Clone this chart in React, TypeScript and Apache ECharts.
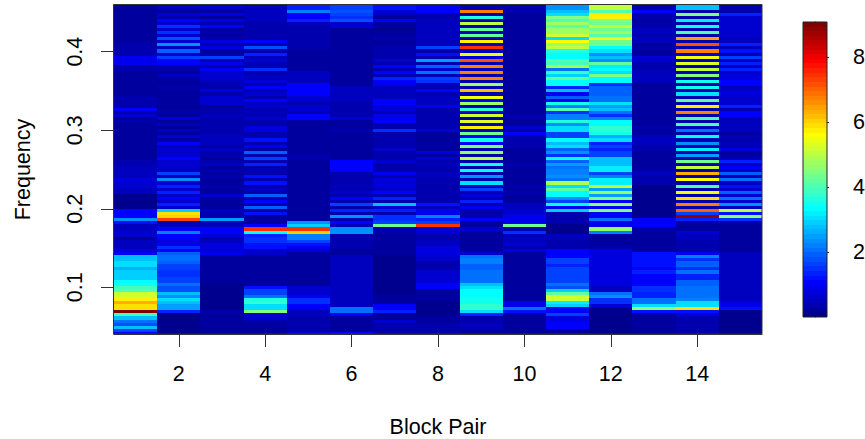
import React, { useEffect, useRef } from "react";
import * as echarts from "echarts";

const FONT = "Liberation Sans";
const FONT_SIZE = 21.5;
const X_TICKS = [2, 4, 6, 8, 10, 12, 14];
const Y_TICKS = [0.1, 0.2, 0.3, 0.4];
const BAR_TICKS = [2, 4, 6, 8];
const VMAX = 9.07;
const FREQ_TOP = 0.4594;
const FREQ_BOTTOM = 0.0406;
const DF = 1 / 256;

const PALETTE = ["#00008F","#00009F","#0000AF","#0000BF","#0000CF","#0000DF","#0000EF","#0000FF","#0010FF","#0020FF","#0030FF","#0040FF","#0050FF","#0060FF","#0070FF","#0080FF","#008FFF","#009FFF","#00AFFF","#00BFFF","#00CFFF","#00DFFF","#00EFFF","#00FFFF","#10FFEF","#20FFDF","#30FFCF","#40FFBF","#50FFAF","#60FF9F","#70FF8F","#80FF80","#8FFF70","#9FFF60","#AFFF50","#BFFF40","#CFFF30","#DFFF20","#EFFF10","#FFFF00","#FFEF00","#FFDF00","#FFCF00","#FFBF00","#FFAF00","#FF9F00","#FF8F00","#FF8000","#FF7000","#FF6000","#FF5000","#FF4000","#FF3000","#FF2000","#FF1000","#FF0000","#EF0000","#DF0000","#CF0000","#BF0000","#AF0000","#9F0000","#8F0000","#800000"];

// Each block pair: power per frequency row, top row (high frequency) first
const pair1 = [.15,.15,.15,.15,.15,.15,.15,.15,.15,.15,
  .15,.15,.15,.4,.4,.3,.3,.9,.9,.9,
  .4,.4,.15,.15,.15,.15,.15,.15,.15,.15,
  .3,.3,.3,.3,1.1,.4,.6,.2,.4,.15,
  .15,.15,.15,.15,.15,.15,.15,.15,.15,.15,
  .15,.3,.3,.5,.5,.5,.5,.8,.6,.6,
  .5,.5,.1,.1,.1,.1,.1,1.1,1.1,1.1,
  2.3,1.2,.5,.5,.7,.6,.2,.5,.5,.5,
  .6,1.1,2.7,2.8,3.0,3.1,2.6,2.9,2.9,2.9,
  3.3,3.5,3.9,4.0,5.2,5.2,5.7,6.3,5.9,5.9,
  9.07,3.9,2.7,2.0,1.8,2.7,1.6,1.0];
const pair2 = [.5,.5,.2,.7,.4,1.1,.6,1.5,.7,1.5,
  .6,1.8,.6,2.3,.5,1.9,.6,1.6,1.1,1.1,
  .3,.3,.2,.5,.15,.15,.15,.3,.15,.15,
  .15,.15,.15,.15,.15,.4,.2,.8,.2,.5,
  .15,.5,.15,.8,.2,1.1,.3,.6,.7,.7,
  1.0,.6,.6,.6,.4,1.6,.5,2.3,.6,1.4,
  .6,1.3,.6,1.0,.7,1.3,.7,2.9,5.9,6.0,
  7.3,.3,.5,1.0,2.2,1.1,1.0,.8,.9,1.5,
  1.0,1.9,2.1,2.0,1.9,1.7,1.6,1.5,1.5,1.6,
  1.6,2.0,1.8,1.8,2.7,2.3,3.0,2.7,2.5,2.5,
  1.4,.1,.1,.1,.1,.1,.1,.1];
const pair3 = [.6,.6,.2,.8,.2,.8,.3,1.0,.2,.3,
  .2,.3,.8,.3,.8,.2,.3,1.6,.4,.9,
  .4,1.0,.6,.7,.7,.5,.4,.4,.8,.4,
  .6,.6,.7,.2,.3,.3,.5,.4,.4,.4,
  .3,.3,.3,.5,.5,.5,.2,.5,.4,.3,
  .2,.3,.5,.2,.3,.2,.3,.2,.2,.3,
  .2,.2,.7,.2,.2,.2,.2,.5,.4,.4,
  2.5,.4,.5,1.0,1.0,.8,.4,.5,.8,.8,
  .8,.9,.2,.2,.2,.2,.2,.2,.2,.2,
  .2,.1,.1,.1,.1,.1,.1,.1,.1,.1,
  .4,.2,.2,.2,.2,.2,.2,.2];
const pair4 = [.5,.5,.5,.5,.5,.5,.4,.3,.3,.3,
  .3,.3,1.1,.3,1.8,.4,1.3,.5,.7,.4,
  .4,1.5,.3,.5,.5,.8,.3,1.0,.4,.7,
  .4,1.0,.5,.7,.3,.5,.3,.7,.3,.3,
  .8,.8,.4,.4,1.2,.3,.9,.2,1.9,.3,
  1.6,.3,1.3,.3,.3,.3,1.2,.3,1.2,.3,
  .5,.4,1.9,.3,1.1,.4,1.9,.2,1.2,.15,
  .15,.15,1.1,7.4,3.4,1.3,1.5,1.5,1.2,1.2,
  .7,.7,.15,.15,.15,.15,.15,.15,.15,.15,
  .15,.15,1.2,1.6,1.6,2.1,3.6,3.8,3.1,3.1,
  4.5,.6,.6,.35,.25,.25,.2,.2];
const pair5 = [1.3,1.3,2.2,1.1,1.1,1.4,.5,.3,.3,.3,
  .3,.3,.3,.3,.3,.2,.2,.2,.2,.2,
  .2,.2,.5,.5,.5,.5,1.1,1.1,1.1,1.0,
  .7,.7,.4,.6,.6,.4,1.1,1.1,.2,.2,
  .2,.2,.2,.2,.2,.2,.2,.2,.2,.4,
  .4,.25,.25,.25,.25,.15,.15,.15,.15,.15,
  .15,.15,.15,.15,.15,.15,.15,.15,.15,.15,
  .15,2.4,2.9,7.4,6.0,2.2,2.2,1.6,1.2,.9,
  .6,.15,.15,.15,.15,.15,.15,.15,.15,.15,
  .15,.15,.7,.7,.7,.9,1.5,1.5,1.0,.9,
  .5,.5,.3,.3,.3,.3,.3,.6];
const pair6 = [1.6,1.6,1.8,1.7,1.5,1.8,.6,.6,.2,.2,
  .2,.2,.2,.2,.2,.2,.2,.2,.2,.2,
  .2,.2,.2,.2,.2,.2,.2,.5,.5,.5,
  .5,.5,.3,.3,.3,.3,.3,.6,.2,.2,
  .2,.4,.2,.2,.2,.2,.2,.2,.2,.2,
  .2,1.0,1.0,1.1,1.1,.3,.3,.3,.3,.5,
  .3,.6,.3,1.0,.3,1.7,.4,1.3,.4,2.4,
  .4,1.1,.5,2.3,2.3,.4,.4,.4,.4,.4,
  .2,.2,.5,.5,.5,.5,.5,.5,.5,.5,
  .5,.5,.5,.5,.5,.5,.5,.5,.5,2.0,
  2.0,1.0,.2,.2,.2,.2,.2,1.0];
const pair7 = [1.2,1.2,.6,.5,.2,1.0,.2,.2,.1,.2,
  .2,.3,.15,.15,.4,.4,.4,.3,.6,.3,
  1.0,.3,1.0,.3,1.3,1.1,.9,.5,.5,.5,
  .5,1.1,1.1,.8,.8,.3,.9,.9,1.0,.3,
  .3,1.5,.4,.4,.4,.4,.4,.6,.4,.4,
  .4,.6,.2,.4,.4,.9,.3,.8,.8,.6,
  .6,1.0,.3,1.3,.4,2.7,.7,1.3,.4,1.5,
  1.5,1.6,4.3,.3,.3,.2,.2,.2,.2,.2,
  .2,.2,.1,.1,.1,.1,.1,.1,.1,.1,
  .1,.1,.1,.1,.1,.2,.2,.2,1.0,1.0,
  1.3,.2,.2,.6,.3,.4,.4,.4];
const pair8 = [1.0,1.0,1.1,.4,.4,.5,.5,.5,.5,.5,
  .5,.5,.5,.5,1.7,.3,1.2,.3,2.5,.3,
  1.9,.6,2.0,.3,1.7,1.5,.5,.4,1.1,.4,
  .5,.5,.5,.9,.3,.3,.3,.3,.3,.3,
  .3,.7,.2,.2,.2,.2,.2,.2,.8,.2,
  .6,.4,.5,.3,.3,.5,.5,.4,.4,.3,
  .3,.3,.3,.3,.3,1.2,.5,.9,.9,2.2,
  1.3,1.7,7.4,.6,.6,.3,.3,.5,.5,.8,
  .8,.8,.6,.6,.4,.4,.4,.7,.7,.7,
  .7,1.1,1.1,.2,.2,.2,.2,.1,.1,.1,
  .1,.1,.2,.2,.3,.3,.3,.3];
const pair9 = [.4,.4,6.8,.2,3.6,.3,5.0,.4,4.2,.4,
  4.2,.3,5.7,.5,7.5,.5,5.5,.8,7.2,.4,
  6.8,.5,6.8,.4,6.8,.4,4.8,.4,6.2,.4,
  5.5,1.0,4.7,.3,3.7,.5,5.2,.4,5.3,.5,
  5.7,.5,4.3,1.0,3.5,1.0,4.5,.3,4.6,.3,
  5.0,.3,3.5,.3,3.4,.3,2.4,.3,3.0,.5,
  1.6,.3,.8,.3,1.3,.3,.9,.3,.4,.3,
  1.0,.2,.2,.7,.15,.15,.15,.15,.15,.15,
  .15,.7,2.0,2.2,2.2,1.9,1.9,2.0,2.0,2.0,
  2.0,2.7,3.0,3.3,3.3,3.3,3.45,3.45,3.7,3.7,
  3.0,1.4,.3,.3,.5,.5,.25,.25];
const pair10 = [.4,.4,.4,.15,.15,.15,.15,.15,.15,.15,
  .15,.15,.15,.15,.15,.15,.15,.15,.15,.15,
  .15,.15,.15,.15,.15,.15,.15,.15,.15,.15,
  .15,.15,.15,.15,.15,.15,.4,.3,.15,.15,
  .6,.2,1.0,.3,.3,.3,.4,.2,.2,.2,
  .2,.2,.3,.2,.2,.2,.2,.2,.2,.3,
  .2,.3,.2,.2,.2,.5,.5,.6,.6,.9,
  .9,.9,4.3,.4,1.5,.5,.5,.5,.7,.3,
  .8,.2,.2,.2,.2,.2,.2,.2,.2,.2,
  .2,.2,.2,.2,.2,.2,.2,.9,.9,2.0,
  1.2,.4,.2,.2,.2,.2,.2,.2];
const pair11 = [2.4,2.4,2.8,3.0,4.5,4.1,4.7,4.2,4.8,4.7,
  5.2,3.0,5.6,4.8,5.0,3.6,3.3,3.3,4.1,3.9,
  4.7,2.0,3.8,2.9,4.2,3.3,3.3,1.3,2.7,.9,
  1.9,.9,3.5,2.2,4.0,1.5,2.2,2.2,3.6,2.4,
  3.0,3.0,1.6,1.6,3.4,2.8,3.0,1.9,2.4,1.5,
  3.3,1.9,2.5,2.0,2.2,2.2,2.3,2.0,4.9,3.0,
  4.2,3.3,3.3,2.4,1.7,3.3,.9,2.9,.3,.4,
  .4,.35,.1,.1,.1,.5,.5,.3,.3,.3,
  1.1,1.1,1.0,1.6,1.6,1.4,1.6,1.6,1.6,1.6,
  1.6,2.0,1.8,2.9,4.2,5.2,5.2,3.2,2.9,1.1,
  1.1,1.7,.8,.9,1.1,1.1,.15,.15];
const pair12 = [5.0,5.0,4.1,5.7,5.7,4.5,4.3,5.0,4.3,4.7,
  4.1,5.4,4.3,4.3,3.4,3.0,2.4,2.8,2.3,4.2,
  3.2,3.4,3.0,4.4,3.3,3.3,1.5,1.9,1.9,1.9,
  2.0,2.0,3.0,2.5,2.8,2.1,1.5,2.2,3.3,3.3,
  3.7,3.7,3.5,2.6,3.1,1.4,1.7,1.4,1.6,1.6,
  2.8,2.8,2.8,3.2,3.2,1.6,2.2,3.2,3.2,5.0,
  2.5,4.6,2.5,4.5,1.0,4.6,1.1,4.5,1.0,.9,
  2.1,.9,.9,4.6,2.2,.2,.2,.2,.2,.3,
  .8,.8,.8,.8,.8,.8,.8,.8,.8,.8,
  .8,.8,.5,.5,2.1,2.3,1.5,1.5,.6,.1,
  .1,.1,.1,.1,.1,.1,.1,.1];
const pair13 = [.3,.3,1.1,.4,.3,.15,.3,.3,.5,.5,
  .3,.5,.5,.2,.4,.2,.2,.6,.6,.4,
  .3,.3,.5,.5,.5,.5,.2,.2,.2,.2,
  .2,.2,.2,.2,.2,.2,.15,.2,.2,.2,
  .4,.2,.2,.5,.5,.5,.4,.4,.2,.2,
  .2,.2,.2,.2,.3,.5,.4,.4,.4,.1,
  .1,.1,.1,.1,.1,.1,.1,.1,.1,.1,
  1.1,.9,1.0,.3,.15,.15,.15,.15,.15,.15,
  .15,1.2,1.2,1.2,1.2,1.2,1.0,1.3,1.1,1.1,
  1.1,1.1,1.5,1.5,1.4,1.4,2.0,2.0,3.1,4.6,
  1.2,.3,.15,.15,.15,.15,.15,.15];
const pair14 = [2.8,2.8,.3,4.5,.4,3.2,.3,3.5,.3,4.1,
  .4,6.5,.4,7.2,.3,6.8,.8,5.4,.5,5.3,
  .4,5.0,.5,4.5,.4,3.5,.3,3.5,.3,3.0,
  .3,4.2,.3,5.7,.3,6.8,.3,4.0,.4,4.0,
  .5,2.0,.3,3.3,.3,2.3,.3,3.2,.3,2.5,
  .3,4.3,.3,5.0,.3,6.3,.4,5.6,.4,4.1,
  .3,5.5,.3,5.9,.3,6.8,.3,7.0,1.6,8.8,
  1.4,.3,.15,.15,.6,.5,.5,.3,.4,.4,
  .4,.9,2.2,1.5,1.9,1.9,1.5,2.0,1.3,1.3,
  1.9,1.9,2.0,2.1,2.1,2.0,2.2,3.1,3.0,5.9,
  1.2,.8,.4,.4,.4,.4,.4,.4];
const pair15 = [.3,.3,.3,1.4,.7,.7,.7,.7,.7,.7,
  .6,.5,.5,1.3,.5,1.2,.3,1.6,.5,1.4,
  .5,1.3,.6,.8,.8,1.1,1.0,.5,.6,.8,
  .6,.6,.6,1.3,.3,1.1,1.1,.3,.5,.5,
  .5,.5,.2,.4,.4,.5,.4,.8,.2,.2,
  .5,1.4,.5,1.0,.5,1.9,.4,2.1,.5,1.2,
  .6,1.9,.6,2.0,.6,2.4,.5,5.0,1.2,4.6,
  1.5,.3,.15,.15,.15,.15,.15,.15,.15,.15,
  .15,.5,.5,.5,.5,.5,.5,.5,.5,.5,
  .5,.5,.5,.5,.5,.5,.5,.8,.9,1.2,
  .1,.1,.1,.1,.1,.1,.1,.1];

const PAIRS = [pair1, pair2, pair3, pair4, pair5, pair6, pair7, pair8, pair9, pair10, pair11, pair12, pair13, pair14, pair15];

const colorOf = (v: number) => PALETTE[Math.min(PALETTE.length - 1, Math.max(0, Math.floor((v / VMAX) * PALETTE.length)))];

const heatData: number[][] = [];
PAIRS.forEach((col, c) => col.forEach((v, r) => heatData.push([c + 1, FREQ_TOP - r * DF, v])));

const barData = PALETTE.map((_, i) => [0, ((i + 0.5) / PALETTE.length) * VMAX, ((i + 0.5) / PALETTE.length) * VMAX]);

function cellRenderer(halfW: number, halfH: number) {
  return (params: any, api: any) => {
    const cx = api.value(0), cy = api.value(1), v = api.value(2);
    const a = api.coord([cx - halfW, cy + halfH]);
    const b = api.coord([cx + halfW, cy - halfH]);
    const cs = params.coordSys;
    const x0 = Math.round(Math.max(a[0], cs.x));
    const x1 = Math.round(Math.min(b[0], cs.x + cs.width));
    const y0 = Math.round(Math.max(a[1], cs.y));
    const y1 = Math.round(Math.min(b[1], cs.y + cs.height));
    return { type: "rect", shape: { x: x0, y: y0, width: x1 - x0, height: y1 - y0 }, style: { fill: colorOf(v), stroke: null } };
  };
}

const INK = "#000";
const AXIS_LINE = { show: true, onZero: false, lineStyle: { color: "#333", width: 1 } };

export default function App() {
  const ref = useRef<HTMLDivElement>(null);
  useEffect(() => {
    const chart = echarts.init(ref.current!, undefined, { renderer: "svg" });
    chart.setOption({
      animation: false,
      backgroundColor: "#fff",
      textStyle: { fontFamily: FONT },
      grid: [
        { left: 114, top: 5, width: 648, height: 329, outerBoundsMode: "none" },
        { left: 803, top: 22, width: 24, height: 295, outerBoundsMode: "none" },
      ],
      xAxis: [
        {
          type: "value", gridIndex: 0, min: 0.5, max: 15.5,
          name: "Block Pair", nameLocation: "middle", nameGap: 82,
          nameTextStyle: { color: INK, fontSize: FONT_SIZE, fontFamily: FONT },
          axisLine: AXIS_LINE,
          axisTick: { show: true, length: 13, customValues: X_TICKS, lineStyle: { color: "#333" } },
          axisLabel: { customValues: X_TICKS, color: INK, fontSize: FONT_SIZE, margin: 29, fontFamily: FONT },
          splitLine: { show: false },
        },
        { type: "value", gridIndex: 1, min: -0.5, max: 0.5, show: false, splitLine: { show: false } },
      ],
      yAxis: [
        {
          type: "value", gridIndex: 0, min: FREQ_BOTTOM, max: FREQ_TOP,
          name: "Frequency", nameLocation: "middle", nameGap: 80, nameRotate: 90,
          nameTextStyle: { color: INK, fontSize: FONT_SIZE, fontFamily: FONT },
          axisLine: AXIS_LINE,
          axisTick: { show: true, length: 13, customValues: Y_TICKS, lineStyle: { color: "#333" } },
          axisLabel: { customValues: Y_TICKS, rotate: 90, color: INK, fontSize: FONT_SIZE, margin: 28, fontFamily: FONT, formatter: (v: number) => v.toFixed(1) },
          splitLine: { show: false },
        },
        {
          type: "value", gridIndex: 1, position: "right", min: 0, max: VMAX,
          axisLine: { show: true, lineStyle: { color: "#222" } },
          axisTick: { show: true, length: 14, customValues: BAR_TICKS, lineStyle: { color: "#333" } },
          axisLabel: { customValues: BAR_TICKS, color: INK, fontSize: FONT_SIZE, margin: 26, fontFamily: FONT },
          splitLine: { show: false },
        },
      ],
      series: [
        { type: "custom", xAxisIndex: 0, yAxisIndex: 0, data: heatData, renderItem: cellRenderer(0.5, DF / 2), encode: { x: 0, y: 1 }, silent: true, z: 2 },
        { type: "custom", xAxisIndex: 1, yAxisIndex: 1, data: barData, renderItem: cellRenderer(0.5, VMAX / PALETTE.length / 2), encode: { x: 0, y: 1 }, silent: true, z: 2 },
      ],
      graphic: [
        { type: "rect", z: 100, shape: { x: 113.5, y: 4.5, width: 648.5, height: 329.5 }, style: { fill: "none", stroke: "#333", lineWidth: 1 } },
        { type: "rect", z: 100, shape: { x: 803, y: 22, width: 24, height: 295 }, style: { fill: "none", stroke: "#222", lineWidth: 1 } },
      ],
    });
    return () => chart.dispose();
  }, []);
  return <div ref={ref} style={{ position: "absolute", left: 0, top: 0, width: 865, height: 439 }} />;
}
